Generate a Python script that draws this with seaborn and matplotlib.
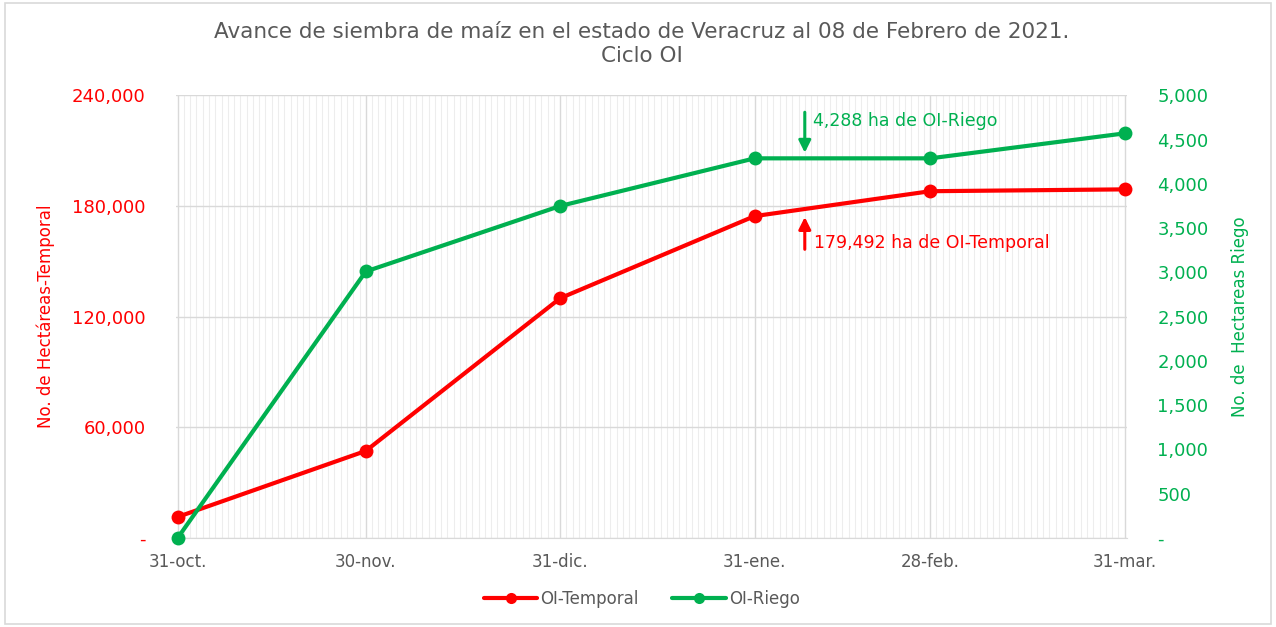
# Avance de siembra de maiz - Veracruz, ciclo OI
import pandas as pd
import seaborn as sns
import matplotlib.pyplot as plt
import matplotlib.dates as mdates
from matplotlib.ticker import FuncFormatter, MultipleLocator
from matplotlib.patches import Rectangle

# Data
fechas = ['2020-10-31', '2020-11-30', '2020-12-31', '2021-01-31', '2021-02-28', '2021-03-31']
etiquetas_x = ['31-oct.', '30-nov.', '31-dic.', '31-ene.', '28-feb.', '31-mar.']
temporal = [11400, 47200, 130000, 174500, 188000, 189000]
riego = [0, 3010, 3750, 4288, 4288, 4570]

df = pd.DataFrame({'fecha': pd.to_datetime(fechas), 'temporal': temporal, 'riego': riego})

sns.set_style('white')
plt.rcParams['font.family'] = ['DejaVu Sans']

ROJO = '#FF0000'
VERDE = '#00B050'
GRIS = '#595959'

fig = plt.figure(figsize=(12.76, 6.27), dpi=100)
ax = fig.add_axes([0.138, 0.142, 0.745, 0.706])
ax2 = ax.twinx()

sns.lineplot(data=df, x='fecha', y='temporal', ax=ax, color=ROJO, lw=3, marker='o',
             markersize=10, markeredgewidth=0, label='OI-Temporal', clip_on=False, zorder=5)
sns.lineplot(data=df, x='fecha', y='riego', ax=ax2, color=VERDE, lw=3, marker='o',
             markersize=10, markeredgewidth=0, label='OI-Riego', clip_on=False, zorder=5)

# axes ranges
ax.set_ylim(0, 240000)
ax2.set_ylim(0, 5000)
ax.set_xlim(pd.Timestamp('2020-10-30 18:00'), pd.Timestamp('2021-03-31 08:00'))

fmt = FuncFormatter(lambda v, p: '-' if v == 0 else f'{v:,.0f}')
ax.yaxis.set_major_locator(MultipleLocator(60000))
ax2.yaxis.set_major_locator(MultipleLocator(500))
ax.yaxis.set_major_formatter(fmt)
ax2.yaxis.set_major_formatter(fmt)

ax.set_xticks(df['fecha'])
ax.set_xticklabels(etiquetas_x)
ax.xaxis.set_minor_locator(mdates.DayLocator())

# grid
ax.grid(axis='y', which='major', color='#D9D9D9', lw=1)
ax.grid(axis='x', which='major', color='#D9D9D9', lw=1)
ax.grid(axis='x', which='minor', color='#EDEDED', lw=0.8)
ax.set_axisbelow(True)

for a in (ax, ax2):
    for s in a.spines.values():
        s.set_visible(False)
ax.spines['bottom'].set_visible(True)
ax.spines['bottom'].set_color('#D9D9D9')

ax.tick_params(axis='y', colors=ROJO, labelsize=13, length=0, pad=22)
ax2.tick_params(axis='y', colors=VERDE, labelsize=13, length=0, pad=22)
ax.tick_params(axis='x', which='major', colors='#D9D9D9', labelcolor=GRIS, labelsize=12, length=5, pad=6)
ax.tick_params(axis='x', which='minor', length=0)

ax.set_xlabel('')
ax.set_ylabel('No. de Hectáreas-Temporal', color=ROJO, fontsize=12, labelpad=12)
ax2.set_ylabel('No. de  Hectareas Riego', color=VERDE, fontsize=12, labelpad=16)

fig.suptitle('Avance de siembra de maíz en el estado de Veracruz al 08 de Febrero de 2021.\nCiclo OI',
             x=0.503, y=0.965, fontsize=15.5, color=GRIS, linespacing=1.25)

# annotations
x_ann = pd.Timestamp('2021-02-08')
ax2.annotate('', xy=(x_ann, 4320), xytext=(x_ann, 4840),
             arrowprops=dict(arrowstyle='-|>', color=VERDE, lw=2.2, mutation_scale=18))
ax2.text(pd.Timestamp('2021-02-09 06:00'), 4715, '4,288 ha de OI-Riego', color=VERDE,
         fontsize=12.5, va='center')
ax.annotate('', xy=(x_ann, 175500), xytext=(x_ann, 155000),
             arrowprops=dict(arrowstyle='-|>', color=ROJO, lw=2.2, mutation_scale=18))
ax.text(pd.Timestamp('2021-02-09 12:00'), 160000, '179,492 ha de OI-Temporal', color=ROJO,
        fontsize=12.5, va='center')

# legend at bottom
h1, l1 = ax.get_legend_handles_labels()
h2, l2 = ax2.get_legend_handles_labels()
if ax2.get_legend():
    ax2.get_legend().remove()
if ax.get_legend():
    ax.get_legend().remove()
fig.legend(h1 + h2, l1 + l2, loc='center', bbox_to_anchor=(0.503, 0.045), ncol=2,
           frameon=False, fontsize=12, labelcolor=GRIS, handlelength=3.2,
           handletextpad=0.2, columnspacing=2.0, markerscale=0.8)

# outer frame
fig.patches.append(Rectangle((0.004, 0.004), 0.992, 0.992, transform=fig.transFigure,
                             fill=False, edgecolor='#D9D9D9', lw=1.2))

fig.savefig('out.png', dpi=100)
